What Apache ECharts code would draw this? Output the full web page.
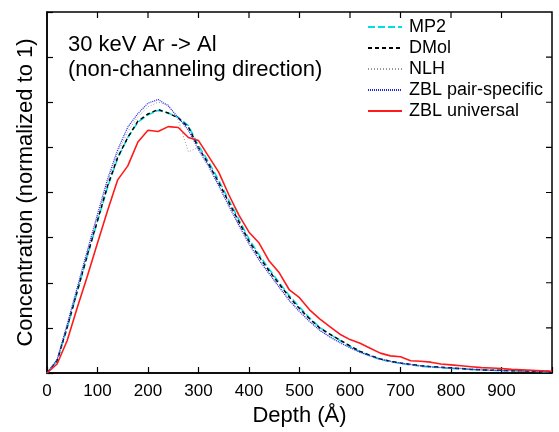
<!DOCTYPE html>
<html><head><meta charset="utf-8">
<script src="https://cdn.jsdelivr.net/npm/echarts@6/dist/echarts.min.js"></script>
<style>html,body{margin:0;padding:0;background:#fff}#c{width:559px;height:432px}</style>
</head><body><div id="c"></div>
<script>
const depth = [];
for (let d = 0; d <= 1000; d += 20) depth.push(d);
const xTickLabels = ['0','100','200','300','400','500','600','700','800','900'];
const seriesNames = ['MP2','DMol','NLH','ZBL pair-specific','ZBL universal'];
const mp2 = [0,0.27,1.0,1.8,2.6,3.36,4.12,4.76,5.22,5.56,5.72,5.82,5.76,5.66,5.48,5.04,4.68,4.27,3.83,3.40,2.97,2.62,2.30,2.0,1.71,1.46,1.22,1.01,0.86,0.72,0.59,0.47,0.38,0.30,0.25,0.21,0.18,0.15,0.13,0.12,0.10,0.09,0.08,0.07,0.06,0.05,0.05,0.04,0.04,0.03,0.03];
const dmol = [0,0.27,1.02,1.82,2.62,3.38,4.15,4.78,5.22,5.58,5.74,5.84,5.76,5.65,5.45,4.99,4.63,4.22,3.78,3.35,2.92,2.58,2.26,1.97,1.68,1.43,1.20,1.00,0.86,0.73,0.60,0.48,0.39,0.31,0.26,0.22,0.19,0.16,0.14,0.13,0.11,0.10,0.08,0.07,0.06,0.06,0.05,0.05,0.04,0.04,0.03];
const nlh = [0,0.28,1.05,1.86,2.68,3.46,4.24,4.88,5.35,5.68,5.9,6.0,5.95,5.6,4.9,5.0,4.6,4.18,3.74,3.3,2.88,2.52,2.2,1.9,1.62,1.38,1.15,0.94,0.8,0.68,0.56,0.45,0.37,0.3,0.25,0.21,0.18,0.15,0.13,0.12,0.1,0.09,0.08,0.07,0.06,0.05,0.05,0.04,0.04,0.03,0.03];
const zblPair = [0,0.3,1.08,1.9,2.72,3.52,4.3,4.95,5.45,5.75,5.98,6.06,5.92,5.66,5.38,4.95,4.58,4.15,3.7,3.27,2.86,2.5,2.2,1.9,1.6,1.36,1.14,0.95,0.8,0.67,0.56,0.46,0.38,0.31,0.26,0.22,0.19,0.16,0.14,0.12,0.11,0.1,0.08,0.07,0.06,0.06,0.05,0.05,0.04,0.04,0.03];
const zblUniv = [0,0.2,0.72,1.45,2.15,2.88,3.6,4.28,4.59,5.12,5.38,5.35,5.46,5.44,5.22,5.15,4.8,4.45,3.95,3.5,3.12,2.88,2.48,2.22,1.84,1.67,1.4,1.2,1.03,0.86,0.74,0.66,0.55,0.44,0.38,0.36,0.27,0.26,0.24,0.2,0.18,0.16,0.14,0.12,0.11,0.1,0.08,0.07,0.06,0.05,0.04];
const titleLines = ['30 keV Ar -> Al','(non-channeling direction)'];
const xTickValues = [100,200,300,400,500,600,700,800,900];
const yTickValues = [1,2,3,4,5,6,7];

const FONT = 'Liberation Sans, Arial, Helvetica, sans-serif';
const X_MAX = 1000, Y_MAX = 8;
const pair = a => a.map((v,i)=>[depth[i], v]);
const styles = [
  {color:'#00dde8', type:[7,3], width:1.6},
  {color:'#000000', type:[4,3], width:1.5},
  {color:'#999999', type:[1,2], width:1},
  {color:'#2222ee', type:[1,1], width:1.2},
  {color:'#ff1a1a', type:'solid', width:1.6}
];
const datas = [mp2, dmol, nlh, zblPair, zblUniv];
const order = [4,3,2,0,1];
const series = order.map(k => ({
  name: seriesNames[k], type:'line', data: pair(datas[k]), symbol:'none',
  lineStyle: styles[k], itemStyle:{color:styles[k].color}, z: 2+k, animation:false
}));
// mirrored inward ticks on the top and right frame edges (as short line series in axis units)
const TICK_FRAC_Y = 6/361, TICK_FRAC_X = 6/505;
const tickStyle = {color:'#000', width:1.2, type:'solid'};
xTickValues.forEach(v => series.push({
  type:'line', symbol:'none', silent:true, animation:false, z:20, lineStyle:tickStyle, itemStyle:{color:'#000'},
  data:[[v, Y_MAX], [v, Y_MAX*(1-TICK_FRAC_Y)]]
}));
yTickValues.forEach(v => series.push({
  type:'line', symbol:'none', silent:true, animation:false, z:20, lineStyle:tickStyle, itemStyle:{color:'#000'},
  data:[[X_MAX, v], [X_MAX*(1-TICK_FRAC_X), v]]
}));
const chart = echarts.init(document.getElementById('c'));
const mkLine = () => ({show:true, onZero:false, lineStyle:{color:'#000', width:1.5}});
const mkTick = () => ({show:true, inside:true, length:6, lineStyle:{color:'#000', width:1.2}});
chart.setOption({
  animation:false,
  grid:{left:47, right:7, top:12, bottom:58, show:true, borderColor:'#000', borderWidth:1.5, backgroundColor:'transparent'},
  title: titleLines.map((t,i)=>({text:t, left:63, top:29+i*25, textStyle:{fontFamily:FONT, fontSize:22, fontWeight:'normal', color:'#000'}})),
  legend:{
    data: seriesNames, orient:'vertical', left:362, top:13, itemWidth:34, itemHeight:14, itemGap:3,
    itemStyle:{opacity:0},
    textStyle:{fontFamily:FONT, fontSize:18, lineHeight:18, color:'#000', padding:[0,0,0,2]}
  },
  xAxis:{type:'value', min:0, max:X_MAX, interval:100, position:'bottom',
     axisLine:mkLine(), axisTick:mkTick(),
     axisLabel:{fontFamily:FONT, fontSize:17, color:'#000', margin:10, formatter:v=> v<1000 ? xTickLabels[Math.round(v/100)] : ''},
     splitLine:{show:false},
     name:'Depth (Å)', nameLocation:'middle', nameGap:32, nameTextStyle:{fontFamily:FONT, fontSize:22, color:'#000'}},
  yAxis:{type:'value', min:0, max:Y_MAX, interval:1, position:'left',
     axisLine:mkLine(), axisTick:mkTick(), axisLabel:{show:false}, splitLine:{show:false},
     name:'Concentration (normalized to 1)', nameLocation:'middle', nameGap:10, nameRotate:90,
     nameTextStyle:{fontFamily:FONT, fontSize:22, color:'#000'}},
  series
});
</script></body></html>
